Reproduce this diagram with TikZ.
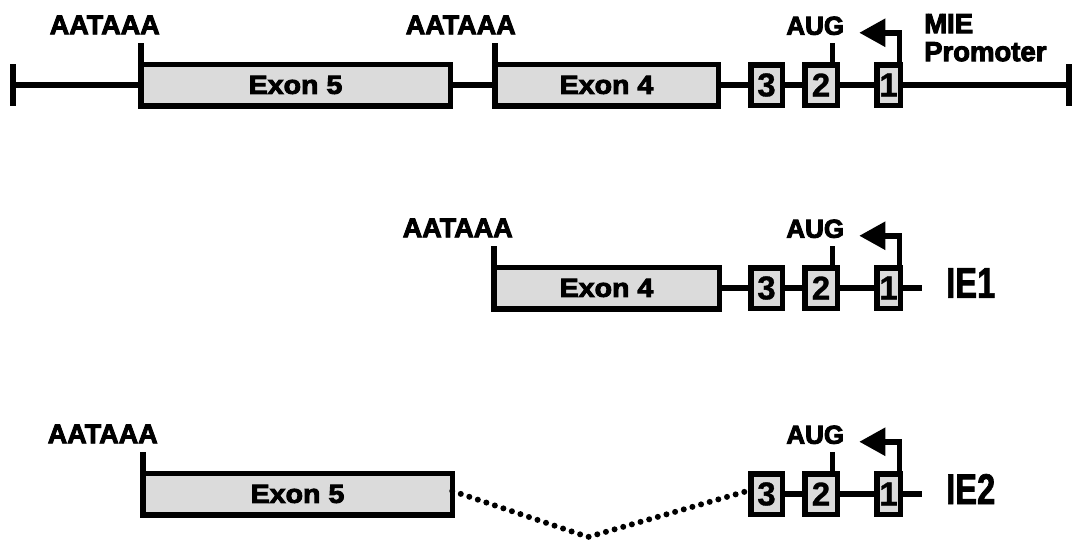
\documentclass[tikz,border=0pt]{standalone}
\usepackage{fontspec}
\setmainfont{Liberation Sans}
\newfontfamily\heavyfont{Liberation Sans}[UprightFont=* Bold,FakeBold=3.5]
\newfontfamily\widefont{Liberation Sans}[UprightFont=* Bold,FakeBold=3.5,FakeStretch=1.1]
\newfontfamily\narrowfont{Liberation Sans}[UprightFont=* Bold,FakeBold=1.5,FakeStretch=0.76]
\newfontfamily\digitfont{Liberation Sans}[UprightFont=* Bold,FakeBold=1]
\usetikzlibrary{positioning,arrows.meta}
\tikzset{
  % --- gene strand and exons ------------------------------------------------
  strand/.style={line width=5.5pt},
  endbar/.style={rectangle,fill=black,inner sep=0pt,minimum width=5.5pt,
                 minimum height=42pt},
  exon/.style={rectangle,draw,line width=5.5pt,fill=black!14,inner sep=0pt,
               outer sep=0pt,minimum height=41.5pt,
               font=\widefont\fontsize{26}{26}\selectfont},
  minibox/.style={exon,minimum height=40.5pt,
                  font=\digitfont\fontsize{33}{33}\selectfont},
  % --- splice and promoter ---------------------------------------------------
  splice/.style={line width=6pt,line cap=round,dash pattern=on 0pt off 9pt},
  prom/.style={strand,-{Triangle[length=26pt,width=27pt]}},
  % --- labels ----------------------------------------------------------------
  polya/.style={font=\heavyfont\fontsize{27}{27}\selectfont,inner sep=0pt},
  auglab/.style={font=\heavyfont\fontsize{26}{26}\selectfont,inner sep=0pt},
  promlab/.style={font=\heavyfont\fontsize{27.5}{28}\selectfont,align=left,
                  inner sep=0pt},
  ielab/.style={font=\narrowfont\fontsize{43}{43}\selectfont,inner sep=0pt},
}

\begin{document}
\begin{tikzpicture}[x=1pt,y=-1pt]
  \useasboundingbox (0,0) rectangle (1072,542);

  % exons 1-3, AUG and MIE start, the same in every row
  \foreach \r/\y in {1/85,2/288,3/494}{
    \node[minibox,minimum width=31.5pt] (b3\r) at (766.5,\y) {3};
    \node[minibox,minimum width=32.5pt] (b2\r) at (821,\y)   {2};
    \node[minibox,minimum width=23.5pt] (b1\r) at (888.5,\y) {1};
    \draw[strand] (b3\r) -- (b2\r);
    \draw[strand] (b2\r) -- (b1\r);
    \coordinate (aug\r) at ([xshift=-5pt,yshift=22pt]b2\r.north east);
    \draw[strand] ([xshift=-5pt]b2\r.north east) -- (aug\r);
    \node[auglab,anchor=base] (augt\r) at ([xshift=-17pt,yshift=8pt]aug\r) {AUG};
    \coordinate (tss\r) at ([xshift=-41pt,yshift=32pt]b1\r.north east);
    \draw[prom] ([xshift=-1pt]b1\r.north east) |- (tss\r);
  }

  % genomic locus
  \node[endbar] (lbar) at (13,85) {};
  \node[endbar] (rbar) at (1069,85) {};
  \node[exon,minimum width=309.5pt] (e51) at (295.5,85) {Exon 5};
  \node[exon,minimum width=223.5pt] (e41) at (606.5,85) {Exon 4};
  \draw[strand] (lbar) -- (e51);
  \draw[strand] (e51) -- (e41);
  \draw[strand] (e41) -- (b31);
  \draw[strand] (b11) -- (rbar);
  \coordinate (pa1) at ([yshift=21pt]e51.north west);
  \coordinate (pa2) at ([yshift=21pt]e41.north west);
  \draw[strand] (e51.north west) -- (pa1);
  \draw[strand] (e41.north west) -- (pa2);
  \node[polya,anchor=base] (sig1) at ([xshift=-36pt,yshift=9pt]pa1) {AATAAA};
  \node[polya,anchor=base] (sig2) at ([xshift=-34pt,yshift=9pt]pa2) {AATAAA};
  \node[promlab,anchor=north west] (mie) at (924,14) {MIE\\Promoter};

  % IE1 transcript
  \node[exon,minimum width=225.5pt] (e42) at (606.5,288) {Exon 4};
  \coordinate (end2) at (922,288);
  \draw[strand] (e42) -- (b32);
  \draw[strand] (b12) -- (end2);
  \coordinate (pa3) at ([yshift=21pt]e42.north west);
  \draw[strand] (e42.north west) -- (pa3);
  \node[polya,anchor=base] (sig3) at ([xshift=-36pt,yshift=9pt]pa3) {AATAAA};
  \node[ielab,anchor=west] (ie1) at ([xshift=24pt,yshift=5pt]end2) {IE1};

  % IE2 transcript
  \node[exon,minimum width=309.5pt] (e53) at (297.5,494) {Exon 5};
  \coordinate (end3) at (922,494);
  \coordinate (dip) at (588,537);
  \draw[splice] ([yshift=3pt]e53.east) -- (dip) -- ([yshift=4pt]b33.west);
  \draw[strand] (b13) -- (end3);
  \coordinate (pa4) at ([yshift=21pt]e53.north west);
  \draw[strand] (e53.north west) -- (pa4);
  \node[polya,anchor=base] (sig4) at ([xshift=-40pt,yshift=9pt]pa4) {AATAAA};
  \node[ielab,anchor=west] (ie2) at ([xshift=24pt,yshift=5pt]end3) {IE2};
\end{tikzpicture}
\end{document}
